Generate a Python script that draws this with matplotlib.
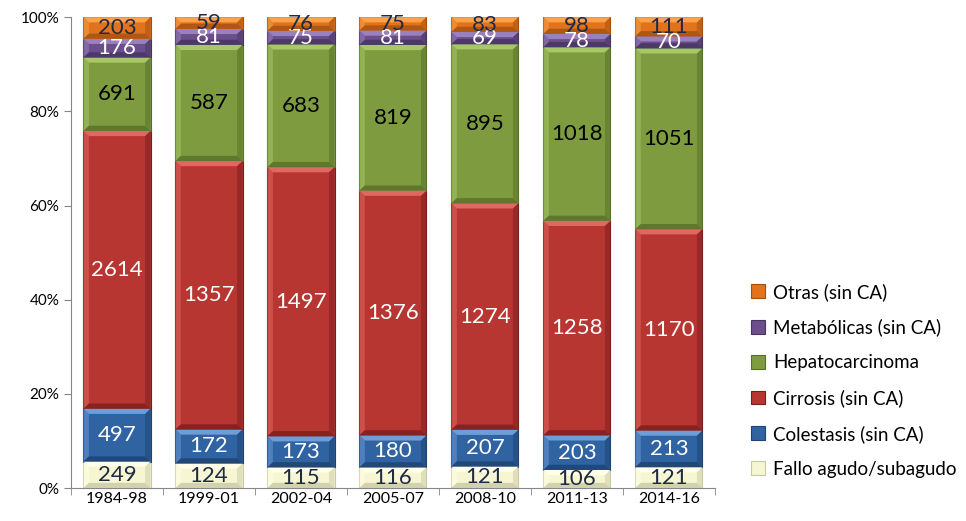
import matplotlib.pyplot as plt
import numpy as np
from matplotlib.patches import Polygon
from matplotlib.ticker import FuncFormatter

plt.rcParams['font.family'] = ['Lato', 'DejaVu Sans']

periods = ['1984-98', '1999-01', '2002-04', '2005-07', '2008-10', '2011-13', '2014-16']
series = ['Fallo agudo/subagudo', 'Colestasis (sin CA)', 'Cirrosis (sin CA)',
          'Hepatocarcinoma', 'Metabólicas (sin CA)', 'Otras (sin CA)']
fallo = [249, 124, 115, 116, 121, 106, 121]
colestasis = [497, 172, 173, 180, 207, 203, 213]
cirrosis = [2614, 1357, 1497, 1376, 1274, 1258, 1170]
hepato = [691, 587, 683, 819, 895, 1018, 1051]
metabolicas = [176, 81, 75, 81, 69, 78, 70]
otras = [203, 59, 76, 75, 83, 98, 111]

face = ['#F6F6D2', '#2F63A2', '#B83632', '#7E9C3F', '#6A4F8C', '#E0731C']
light = ['#FFFFEA', '#6F9DD8', '#E06863', '#A8C868', '#9A80BC', '#F9A34E']
dark = ['#C9C9A4', '#1F426E', '#7A1E1C', '#56702A', '#46345F', '#A4500F']
txt = ['#1F2A44', 'white', 'white', 'black', 'white', '#1F2A44']

data = np.array([fallo, colestasis, cirrosis, hepato, metabolicas, otras], dtype=float)
pct = data / data.sum(axis=0) * 100

fig = plt.figure(figsize=(9.66, 5.21), dpi=100)
ax = fig.add_axes([0.0735, 0.0633, 0.6665, 0.9037])
x = np.arange(len(periods))
w = 0.73
bev_x = 0.06
bev_y = 1.1

bottom = np.zeros(len(periods))
for i, name in enumerate(series):
    ax.bar(x, pct[i], w, bottom=bottom, color=face[i], edgecolor=dark[i],
           linewidth=0.8, label=name, zorder=2)
    for j in range(len(periods)):
        x0, x1 = x[j] - w / 2, x[j] + w / 2
        y0, y1 = bottom[j], bottom[j] + pct[i][j]
        by = min(bev_y, (y1 - y0) / 2)
        bx = bev_x * by / bev_y
        # bevel: light top/left, dark bottom/right
        ax.add_patch(Polygon([[x0, y1], [x1, y1], [x1 - bx, y1 - by], [x0 + bx, y1 - by]],
                             closed=True, color=light[i], lw=0, zorder=3))
        ax.add_patch(Polygon([[x0, y0], [x0, y1], [x0 + bx, y1 - by], [x0 + bx, y0 + by]],
                             closed=True, color=light[i], lw=0, alpha=0.5, zorder=3))
        ax.add_patch(Polygon([[x0, y0], [x1, y0], [x1 - bx, y0 + by], [x0 + bx, y0 + by]],
                             closed=True, color=dark[i], lw=0, alpha=0.8, zorder=3))
        ax.add_patch(Polygon([[x1, y0], [x1, y1], [x1 - bx, y1 - by], [x1 - bx, y0 + by]],
                             closed=True, color=dark[i], lw=0, alpha=0.5, zorder=3))
        ax.text(x[j], (y0 + y1) / 2, f'{int(data[i][j])}', ha='center', va='center',
                fontsize=16, color=txt[i], zorder=4)
    bottom += pct[i]

ax.set_xlim(-0.5, len(periods) - 0.5)
ax.set_ylim(0, 100)
ax.set_xticks(x)
ax.set_xticklabels(periods, fontsize=11.5)
ax.set_xticks(np.arange(len(periods) + 1) - 0.5, minor=True)
ax.tick_params(axis='x', which='major', length=0, pad=3)
ax.tick_params(axis='x', which='minor', length=5, color='#868686')
ax.set_yticks(np.arange(0, 101, 20))
ax.yaxis.set_major_formatter(FuncFormatter(lambda v, p: f'{int(v)}%'))
ax.tick_params(axis='y', length=5, color='#868686', labelsize=11)
for s in ['top', 'right']:
    ax.spines[s].set_visible(False)
for s in ['left', 'bottom']:
    ax.spines[s].set_color('#868686')

handles, labels = ax.get_legend_handles_labels()
fig.legend(handles[::-1], labels[::-1], loc='center left', bbox_to_anchor=(0.768, 0.27),
           frameon=False, fontsize=13.5, handlelength=0.75, handleheight=0.75,
           handletextpad=0.4, labelspacing=0.95, borderpad=0)

fig.savefig('out.png', dpi=100)
